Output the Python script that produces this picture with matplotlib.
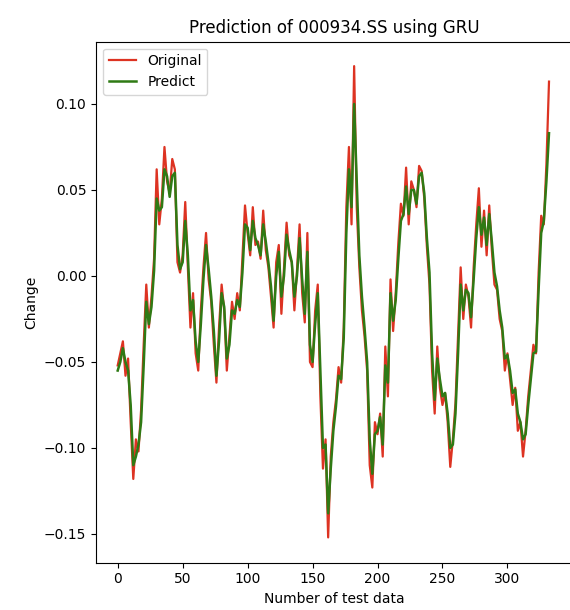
import matplotlib
matplotlib.use('Agg')
import matplotlib.pyplot as plt

# test index (every second sample)
steps = list(range(0, 334, 2))

original = [
    -0.052, -0.045, -0.038, -0.058, -0.048, -0.085, -0.118, -0.095, -0.102, -0.078,
    -0.040, -0.005, -0.030, -0.012, 0.010, 0.062, 0.030, 0.045, 0.075, 0.055,
    0.048, 0.068, 0.062, 0.008, 0.002, 0.012, 0.043, 0.005, -0.030, -0.010,
    -0.045, -0.055, -0.020, 0.005, 0.025, -0.002, -0.015, -0.040, -0.062, -0.030,
    -0.005, -0.020, -0.055, -0.035, -0.015, -0.025, -0.010, -0.020, 0.010, 0.041,
    0.025, 0.012, 0.040, 0.018, 0.020, 0.010, 0.038, 0.015, 0.005, -0.012,
    -0.030, 0.008, 0.018, -0.022, 0.005, 0.031, 0.012, 0.008, -0.020, 0.003,
    0.030, -0.010, -0.027, 0.025, -0.050, -0.053, -0.020, -0.005, -0.070, -0.112,
    -0.095, -0.152, -0.105, -0.085, -0.072, -0.053, -0.062, -0.030, 0.040, 0.075,
    0.030, 0.122, 0.040, 0.005, -0.020, -0.035, -0.055, -0.110, -0.123, -0.085,
    -0.092, -0.080, -0.105, -0.041, -0.070, -0.002, -0.032, -0.010, 0.019, 0.042,
    0.035, 0.063, 0.030, 0.055, 0.050, 0.040, 0.064, 0.061, 0.045, 0.017,
    -0.005, -0.055, -0.080, -0.041, -0.065, -0.075, -0.068, -0.085, -0.111, -0.095,
    -0.074, -0.035, 0.005, -0.025, -0.005, -0.012, -0.030, 0.005, 0.030, 0.051,
    0.017, 0.038, 0.012, 0.041, 0.015, -0.005, -0.008, -0.025, -0.032, -0.055,
    -0.045, -0.060, -0.075, -0.065, -0.090, -0.085, -0.105, -0.090, -0.070, -0.055,
    -0.040, -0.045, 0.002, 0.035, 0.030, 0.065, 0.113,
]

predict = [
    -0.055, -0.050, -0.042, -0.050, -0.055, -0.075, -0.110, -0.105, -0.098, -0.085,
    -0.052, -0.015, -0.028, -0.018, 0.003, 0.045, 0.038, 0.040, 0.062, 0.058,
    0.046, 0.058, 0.060, 0.018, 0.004, 0.008, 0.032, 0.012, -0.020, -0.014,
    -0.038, -0.050, -0.028, -0.002, 0.018, 0.004, -0.012, -0.032, -0.058, -0.038,
    -0.010, -0.018, -0.048, -0.040, -0.020, -0.022, -0.014, -0.018, 0.002, 0.030,
    0.028, 0.015, 0.032, 0.022, 0.018, 0.012, 0.030, 0.020, 0.008, -0.006,
    -0.026, 0.000, 0.014, -0.012, 0.000, 0.024, 0.015, 0.008, -0.012, 0.000,
    0.022, -0.002, -0.022, 0.014, -0.040, -0.050, -0.028, -0.010, -0.055, -0.100,
    -0.098, -0.138, -0.112, -0.090, -0.076, -0.058, -0.060, -0.036, 0.025, 0.062,
    0.040, 0.100, 0.055, 0.012, -0.012, -0.030, -0.050, -0.095, -0.115, -0.092,
    -0.090, -0.082, -0.098, -0.052, -0.062, -0.010, -0.026, -0.014, 0.010, 0.032,
    0.036, 0.052, 0.036, 0.050, 0.050, 0.042, 0.058, 0.060, 0.048, 0.022,
    0.002, -0.045, -0.072, -0.048, -0.060, -0.070, -0.068, -0.080, -0.100, -0.098,
    -0.080, -0.045, -0.005, -0.020, -0.008, -0.010, -0.024, -0.002, 0.022, 0.040,
    0.024, 0.034, 0.018, 0.036, 0.020, 0.002, -0.006, -0.020, -0.030, -0.048,
    -0.046, -0.055, -0.068, -0.066, -0.080, -0.085, -0.095, -0.092, -0.075, -0.060,
    -0.045, -0.044, -0.008, 0.025, 0.032, 0.055, 0.083,
]

fig = plt.figure(figsize=(5.7, 6.1), dpi=100)

# axes: right spine sits just past the image edge, as in the source crop
ax = fig.add_axes([96 / 570, 1 - 562.7 / 610, 476 / 570, 521 / 610])

ax.plot(steps, original, color='#dd3322', lw=1.6, label='Original')
ax.plot(steps, predict, color='#2f7a14', lw=1.8, label='Predict')

ax.set_title('Prediction of 000934.SS using GRU', fontsize=12)
ax.set_xlabel('Number of test data', fontsize=10)
ax.set_ylabel('Change', fontsize=10)
ax.set_xticks([0, 50, 100, 150, 200, 250, 300])
ax.set_yticks([-0.15, -0.10, -0.05, 0.00, 0.05, 0.10])
ax.set_xlim(-16.7, 349.7)
ax.set_ylim(-0.1667, 0.1362)
ax.legend(loc='upper left', fontsize=10)

fig.savefig('out.png', dpi=100)
